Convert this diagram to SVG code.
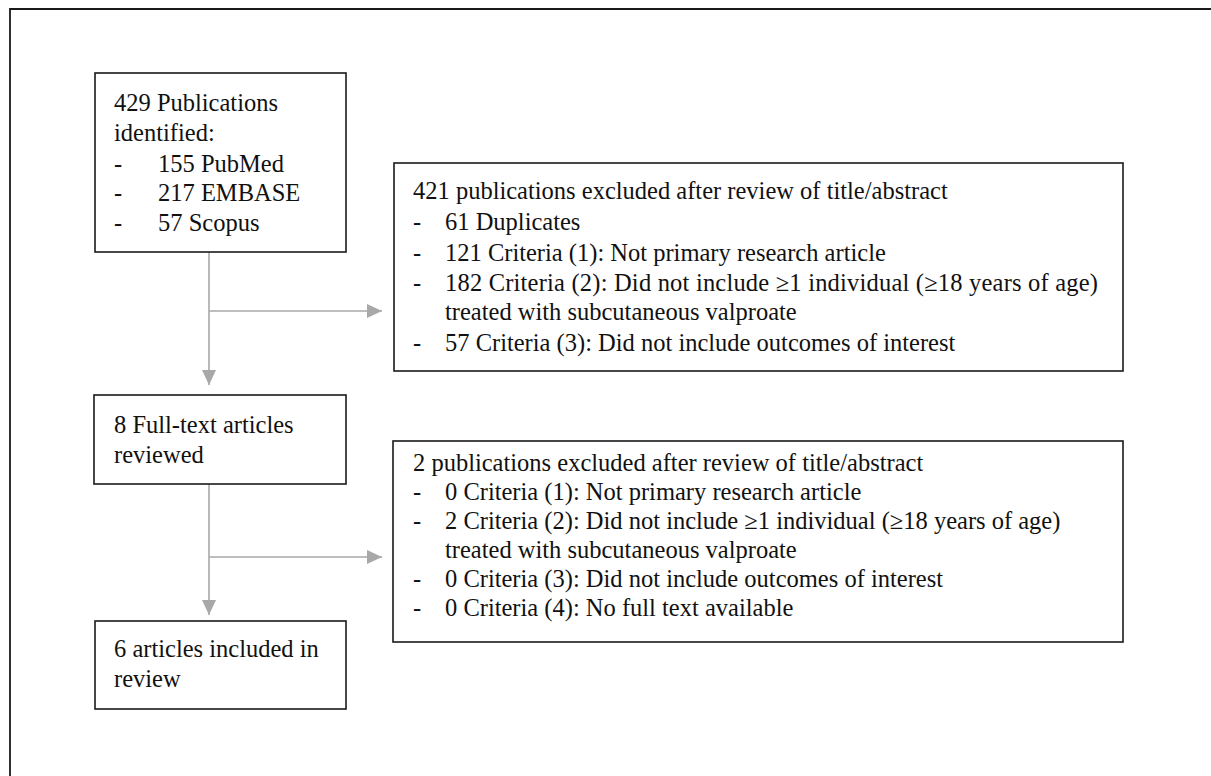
<svg xmlns="http://www.w3.org/2000/svg" width="1211" height="776" viewBox="0 0 1211 776">
<style>
.box{fill:#fff;stroke:#1a1a1a;stroke-width:1.6}
.t{font-family:"Liberation Serif","Times New Roman",serif;font-size:24.5px;fill:#111}
.c{stroke:#a8a8a8;stroke-width:1.6;fill:none}
</style>
<defs>
<marker id="ah" markerUnits="userSpaceOnUse" markerWidth="16" markerHeight="14" refX="15" refY="7" orient="auto">
<path d="M0,0 L15,7 L0,14 Z" fill="#a8a8a8"/>
</marker>
</defs>
<rect width="1211" height="776" fill="#fff"/>
<path d="M10,777 V9 H1212" fill="none" stroke="#1a1a1a" stroke-width="1.8"/>
<g id="connectors">
<path class="c" d="M209,252 V385" marker-end="url(#ah)"/>
<path class="c" d="M209,311 H382" marker-end="url(#ah)"/>
<path class="c" d="M209,484 V615" marker-end="url(#ah)"/>
<path class="c" d="M209,557 H382" marker-end="url(#ah)"/>
</g>
<g id="n1">
<rect class="box" x="95" y="73" width="251" height="179"/>
<text class="t" x="114" y="111">429 Publications</text>
<text class="t" x="114" y="141">identified:</text>
<text class="t" x="114" y="172">-</text><text class="t" x="158" y="172">155 PubMed</text>
<text class="t" x="114" y="201">-</text><text class="t" x="158" y="201">217 EMBASE</text>
<text class="t" x="114" y="231">-</text><text class="t" x="158" y="231">57 Scopus</text>
</g>
<g id="n2">
<rect class="box" x="394" y="163" width="729" height="208"/>
<text class="t" x="413" y="199">421 publications excluded after review of title/abstract</text>
<text class="t" x="413" y="230">-</text><text class="t" x="445" y="230">61 Duplicates</text>
<text class="t" x="413" y="261">-</text><text class="t" x="445" y="261">121 Criteria (1): Not primary research article</text>
<text class="t" x="413" y="291">-</text><text class="t" x="445" y="291" textLength="653" lengthAdjust="spacing">182 Criteria (2): Did not include ≥1 individual (≥18 years of age)</text>
<text class="t" x="445" y="320">treated with subcutaneous valproate</text>
<text class="t" x="413" y="351">-</text><text class="t" x="445" y="351">57 Criteria (3): Did not include outcomes of interest</text>
</g>
<g id="n3">
<rect class="box" x="94" y="395" width="252" height="89"/>
<text class="t" x="114" y="433">8 Full-text articles</text>
<text class="t" x="114" y="463">reviewed</text>
</g>
<g id="n4">
<rect class="box" x="393" y="441" width="730" height="201"/>
<text class="t" x="413" y="471">2 publications excluded after review of title/abstract</text>
<text class="t" x="413" y="500">-</text><text class="t" x="445" y="500">0 Criteria (1): Not primary research article</text>
<text class="t" x="413" y="529">-</text><text class="t" x="445" y="529">2 Criteria (2): Did not include ≥1 individual (≥18 years of age)</text>
<text class="t" x="445" y="558">treated with subcutaneous valproate</text>
<text class="t" x="413" y="587">-</text><text class="t" x="445" y="587">0 Criteria (3): Did not include outcomes of interest</text>
<text class="t" x="413" y="616">-</text><text class="t" x="445" y="616">0 Criteria (4): No full text available</text>
</g>
<g id="n5">
<rect class="box" x="95" y="621" width="251" height="88"/>
<text class="t" x="114" y="657">6 articles included in</text>
<text class="t" x="114" y="687">review</text>
</g>
</svg>
